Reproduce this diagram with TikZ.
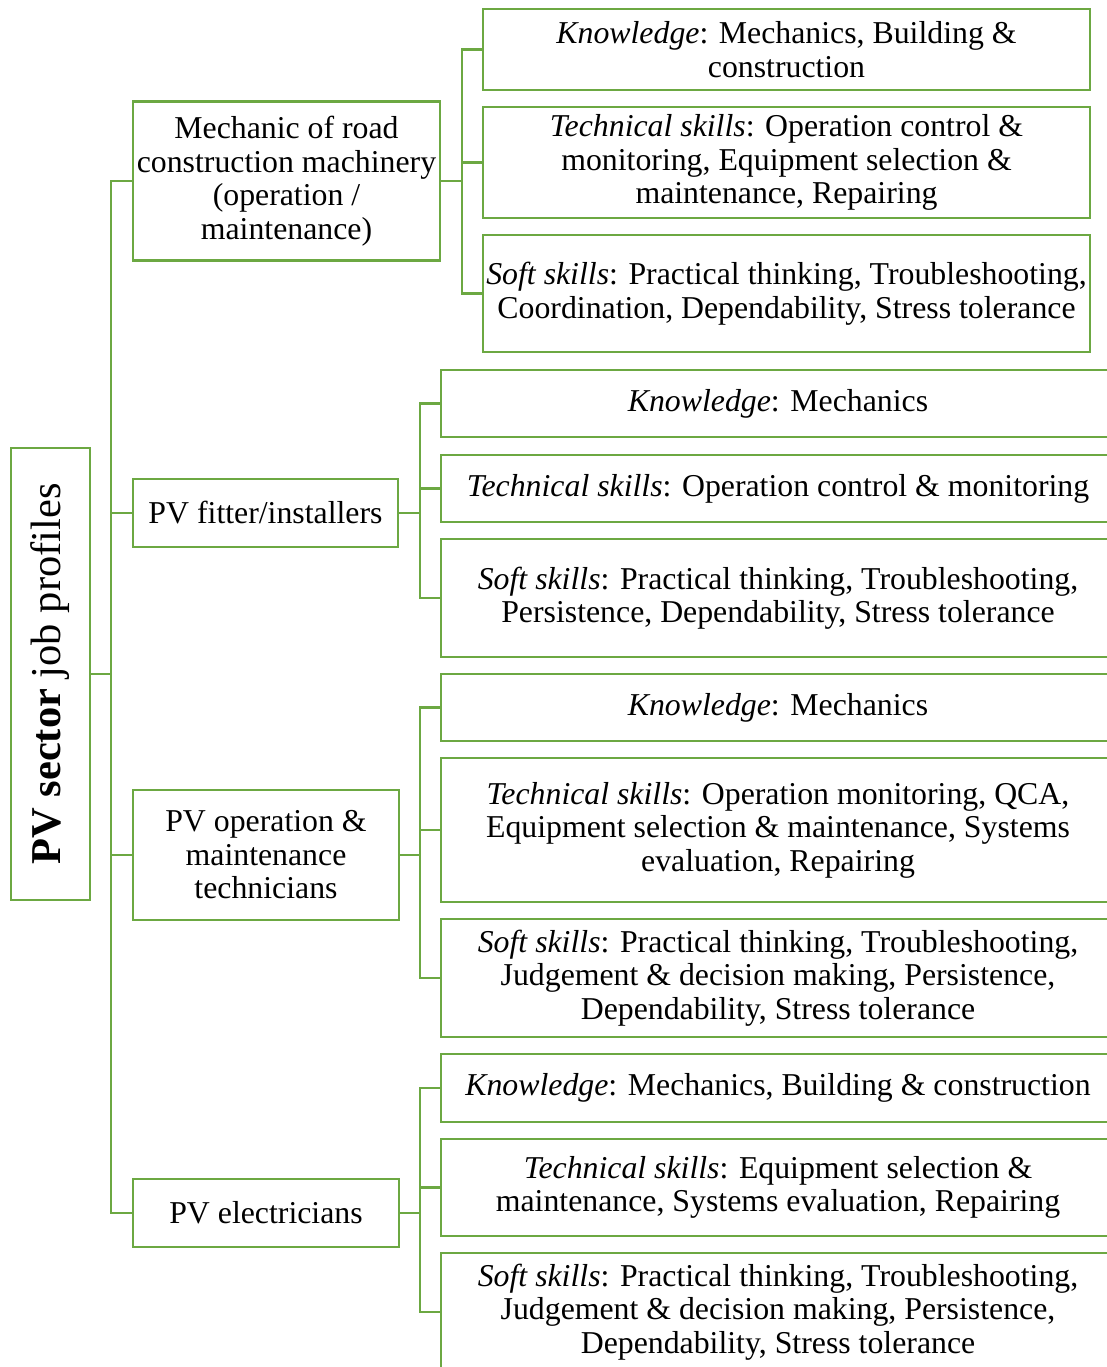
\documentclass[tikz,border=0pt]{standalone}
\usepackage{fontspec}
\setmainfont{Liberation Serif}
\definecolor{pvgreen}{RGB}{108,168,66}
\begin{document}
\begin{tikzpicture}[x=1pt,y=-1pt,
  box/.style={draw=pvgreen, line width=2.8pt, fill=white, align=center, inner sep=0pt,
    font=\fontsize{31.8}{33.5}\selectfont},
  conn/.style={draw=pvgreen, line width=2.8pt}]
\useasboundingbox (0,0) rectangle (1107,1367);
\clip (0,0) rectangle (1107,1367);
% root
\node[box, rotate=90, minimum width=452pt, minimum height=79pt, font=\fontsize{42.5}{48}\selectfont] (root) at (50.5,674) {\textbf{PV sector} job profiles};
% level 2
\node[box, minimum width=307pt, minimum height=159pt] (m1) at (286.5,181) {Mechanic of road\\construction machinery\\(operation /\\maintenance)};
\node[box, minimum width=265pt, minimum height=68pt] (m2) at (265.5,513) {PV fitter/installers};
\node[box, minimum width=266pt, minimum height=130pt] (m3) at (266,855) {PV operation \&\\maintenance\\technicians};
\node[box, minimum width=266pt, minimum height=68pt] (m4) at (266,1213) {PV electricians};
% group 1 leaves
\node[box, minimum width=607pt, minimum height=81pt] (k1) at (786.5,49.5) {\textit{Knowledge}: Mechanics, Building \&\\construction};
\node[box, minimum width=607pt, minimum height=111pt] (t1) at (786.5,162.5) {\textit{Technical skills}: Operation control \&\\monitoring, Equipment selection \&\\maintenance, Repairing};
\node[box, minimum width=607pt, minimum height=117pt] (s1) at (786.5,293.5) {\textit{Soft skills}: Practical thinking, Troubleshooting,\\Coordination, Dependability, Stress tolerance};
% group 2 leaves
\node[box, minimum width=674pt, minimum height=67pt] (k2) at (778,403.5) {\textit{Knowledge}: Mechanics};
\node[box, minimum width=674pt, minimum height=67pt] (t2) at (778,488.5) {\textit{Technical skills}: Operation control \& monitoring};
\node[box, minimum width=674pt, minimum height=118pt] (s2) at (778,598) {\textit{Soft skills}: Practical thinking, Troubleshooting,\\Persistence, Dependability, Stress tolerance};
% group 3 leaves
\node[box, minimum width=674pt, minimum height=67pt] (k3) at (778,707.5) {\textit{Knowledge}: Mechanics};
\node[box, minimum width=674pt, minimum height=144pt] (t3) at (778,830) {\textit{Technical skills}: Operation monitoring, QCA,\\Equipment selection \& maintenance, Systems\\evaluation, Repairing};
\node[box, minimum width=674pt, minimum height=118pt] (s3) at (778,978) {\textit{Soft skills}: Practical thinking, Troubleshooting,\\Judgement \& decision making, Persistence,\\Dependability, Stress tolerance};
% group 4 leaves
\node[box, minimum width=674pt, minimum height=68pt] (k4) at (778,1088) {\textit{Knowledge}: Mechanics, Building \& construction};
\node[box, minimum width=674pt, minimum height=97pt] (t4) at (778,1187.5) {\textit{Technical skills}: Equipment selection \&\\maintenance, Systems evaluation, Repairing};
\node[box, minimum width=674pt, minimum height=118pt] (s4) at (778,1312) {\textit{Soft skills}: Practical thinking, Troubleshooting,\\Judgement \& decision making, Persistence,\\Dependability, Stress tolerance};
% junctions
\coordinate (t0) at (111,674);
\coordinate (j1) at (462,181);
\coordinate (j2) at (420,513);
\coordinate (j3) at (420,855);
\coordinate (j4) at (420,1213);
% connectors
\draw[conn] (root.south) -- (t0);
\foreach \m in {m1,m2,m3,m4} \draw[conn] (t0) |- (\m.west);
\draw[conn] (m1.east) -- (j1);
\draw[conn] (m2.east) -- (j2);
\draw[conn] (m3.east) -- (j3);
\draw[conn] (m4.east) -- (j4);
\foreach \l in {k1,t1,s1} \draw[conn] (j1) |- (\l.west);
\foreach \l in {k2,t2,s2} \draw[conn] (j2) |- (\l.west);
\foreach \l in {k3,t3,s3} \draw[conn] (j3) |- (\l.west);
\foreach \l in {k4,t4,s4} \draw[conn] (j4) |- (\l.west);
\end{tikzpicture}
\end{document}
